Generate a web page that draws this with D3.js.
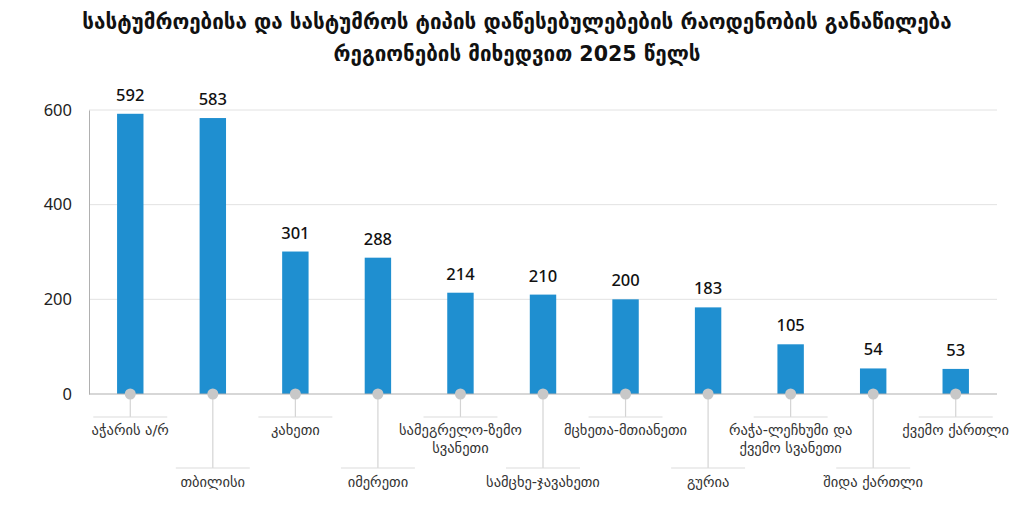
<!DOCTYPE html>
<html><head><meta charset="utf-8">
<script src="https://cdn.jsdelivr.net/npm/d3@7"></script>
<style>body{margin:0;background:#fff}svg{display:block}</style>
</head><body>
<svg id="c" width="1034" height="520"></svg>
<script>
const titleLines = ["სასტუმროებისა და სასტუმროს ტიპის დაწესებულებების რაოდენობის განაწილება","რეგიონების მიხედვით 2025 წელს"];
const categories = ["აჭარის ა/რ","თბილისი","კახეთი","იმერეთი","სამეგრელო-ზემო სვანეთი","სამცხე-ჯავახეთი","მცხეთა-მთიანეთი","გურია","რაჭა-ლეჩხუმი და ქვემო სვანეთი","შიდა ქართლი","ქვემო ქართლი"];
const labelLines = [["აჭარის ა/რ"],["თბილისი"],["კახეთი"],["იმერეთი"],["სამეგრელო-ზემო","სვანეთი"],["სამცხე-ჯავახეთი"],["მცხეთა-მთიანეთი"],["გურია"],["რაჭა-ლეჩხუმი და","ქვემო სვანეთი"],["შიდა ქართლი"],["ქვემო ქართლი"]];
const values = [592,583,301,288,214,210,200,183,105,54,53];
const yTicks = [0,200,400,600];

const svg = d3.select("#c");
const font = "'DejaVu Sans', 'Noto Sans', sans-serif";
const numFont = "'Noto Sans', 'Open Sans', sans-serif";
const m = {left:89, right:997, top:110, bottom:394};

svg.selectAll("text.title").data(titleLines).join("text")
  .attr("x",517).attr("y",(d,i)=>29+i*32)
  .attr("text-anchor","middle").attr("font-family",font).attr("font-weight","bold")
  .attr("font-size",20.6).attr("fill","#111").text(d=>d);

const x = d3.scaleBand().domain(categories).range([m.left,m.right]).paddingInner(0.68).paddingOuter(0.34);
const y = d3.scaleLinear().domain([0,600]).range([m.bottom,m.top]);

svg.append("g").selectAll("line").data(yTicks.filter(t=>t>0)).join("line")
  .attr("x1",m.left).attr("x2",m.right).attr("y1",d=>y(d)).attr("y2",d=>y(d))
  .attr("stroke","#e2e2e2").attr("stroke-width",1);

const yAxis = svg.append("g").attr("transform",`translate(${m.left},0)`)
  .call(d3.axisLeft(y).tickValues(yTicks).tickSize(0).tickPadding(17));
yAxis.select(".domain").attr("stroke","#b0b0b0");
yAxis.selectAll("text").attr("font-family",numFont).attr("font-size",16.5).attr("fill","#222");

svg.append("g").selectAll("rect").data(values).join("rect")
  .attr("x",(d,i)=>x(categories[i])).attr("width",x.bandwidth())
  .attr("y",d=>y(d)).attr("height",d=>y(0)-y(d)).attr("fill","#1f8fd0");

svg.append("line").attr("x1",m.left).attr("x2",m.right).attr("y1",y(0)).attr("y2",y(0))
  .attr("stroke","#b0b0b0").attr("stroke-width",1.2);

svg.append("g").selectAll("text").data(values).join("text")
  .attr("x",(d,i)=>x(categories[i])+x.bandwidth()/2).attr("y",d=>y(d)-13)
  .attr("text-anchor","middle").attr("font-family",numFont).attr("font-weight",500).attr("font-size",16.5)
  .attr("fill","#111").text(d=>d);

const g = svg.append("g");
categories.forEach((c,i)=>{
  const cx = x(c)+x.bandwidth()/2;
  const hy = i%2===0 ? 417 : 468;
  const ty = i%2===0 ? 435 : 487;
  g.append("line").attr("x1",cx).attr("x2",cx).attr("y1",y(0)).attr("y2",hy)
    .attr("stroke","#d4d4d4").attr("stroke-width",1.2);
  g.append("line").attr("x1",cx-37).attr("x2",cx+37).attr("y1",hy).attr("y2",hy)
    .attr("stroke","#dcdcdc").attr("stroke-width",1.2);
  g.append("circle").attr("cx",cx).attr("cy",y(0)).attr("r",5.5).attr("fill","#c8c8c8");
  labelLines[i].forEach((t,j)=>{
    g.append("text").attr("x",cx).attr("y",ty+j*18).attr("text-anchor","middle")
      .attr("font-family",font).attr("font-size",14.5).attr("fill","#333").text(t);
  });
});
</script>
</body></html>
